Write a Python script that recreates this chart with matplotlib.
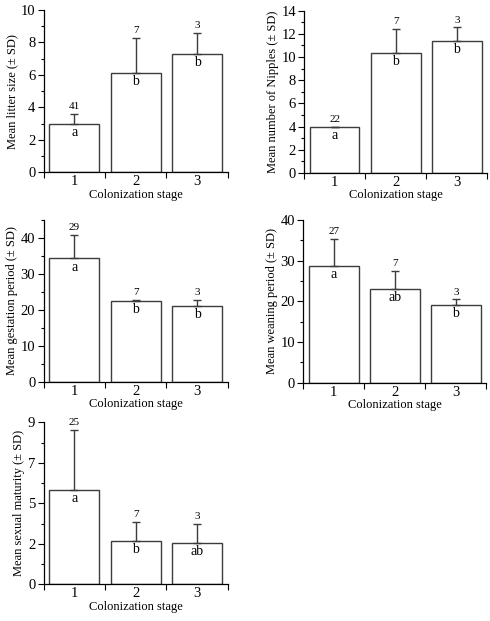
import matplotlib
matplotlib.use('Agg')
import matplotlib.pyplot as plt

plt.rcParams['font.family'] = ['Liberation Serif', 'DejaVu Serif']
plt.rcParams['font.size'] = 9

stages = [1, 2, 3]

litter_mean = [2.97, 6.12, 7.31]
litter_sd = [0.64, 2.18, 1.29]
litter_n = [41, 7, 3]
litter_grp = ['a', 'b', 'b']

nipples_mean = [3.99, 10.37, 11.35]
nipples_sd = [0.0, 2.07, 1.21]
nipples_n = [22, 7, 3]
nipples_grp = ['a', 'b', 'b']

gest_mean = [34.3, 22.5, 21.0]
gest_sd = [6.6, 0.3, 1.9]
gest_n = [29, 7, 3]
gest_grp = ['a', 'b', 'b']

wean_mean = [28.6, 23.1, 19.2]
wean_sd = [6.7, 4.4, 1.3]
wean_n = [27, 7, 3]
wean_grp = ['a', 'ab', 'b']

sexmat_mean = [5.26, 2.42, 2.29]
sexmat_sd = [3.31, 1.06, 1.08]
sexmat_n = [25, 7, 3]
sexmat_grp = ['a', 'b', 'ab']

edge = '#3c3c3c'


def panel(rect, means, sds, ns, grps, ylabel, ylim, majors, minors, ylabels=None):
    ax = fig.add_axes(rect)
    ax.bar(stages, means, width=0.81, color='white', edgecolor=edge, linewidth=1.0)
    ax.errorbar(stages, means, yerr=[[0] * 3, sds], fmt='none', ecolor=edge,
                elinewidth=1.0, capsize=3, capthick=1.0)
    for x, m, s, n, g in zip(stages, means, sds, ns, grps):
        ax.annotate(str(n), (x, m + s), xytext=(0, 2), textcoords='offset points',
                    ha='center', va='bottom', fontsize=8)
        ax.annotate(g, (x, m), xytext=(0, -1.5), textcoords='offset points',
                    ha='center', va='top', fontsize=10)
    ax.set_xlim(0.5, 3.5)
    ax.set_ylim(*ylim)
    ax.set_xticks([0.5, 1.5, 2.5, 3.5])
    ax.set_xticklabels([''] * 4)
    ax.set_xticks(stages, minor=True)
    ax.set_xticklabels([str(s) for s in stages], minor=True)
    ax.tick_params(axis='x', which='major', length=4, width=0.8, direction='out')
    ax.tick_params(axis='x', which='minor', length=0, pad=2, labelsize=10.5)
    ax.set_yticks(majors)
    if ylabels is not None:
        ax.set_yticklabels(ylabels)
    ax.set_yticks(minors, minor=True)
    ax.tick_params(axis='y', which='major', length=4.5, width=0.8, direction='out',
                   pad=1.5, labelsize=10.5)
    ax.tick_params(axis='y', which='minor', length=2, width=0.8, direction='out')
    for sp in ['top', 'right']:
        ax.spines[sp].set_visible(False)
    for sp in ['left', 'bottom']:
        ax.spines[sp].set_linewidth(0.9)
    ax.set_xlabel('Colonization stage', labelpad=0.5, fontsize=9)
    ax.set_ylabel(ylabel, labelpad=2, fontsize=9)
    return ax


fig = plt.figure(figsize=(4.9, 6.21), dpi=100)

panel([0.089, 0.7225, 0.376, 0.2614], litter_mean, litter_sd, litter_n, litter_grp,
      'Mean litter size (\u00b1 SD)', (0, 10), [0, 2, 4, 6, 8, 10], [1, 3, 5, 7, 9])
panel([0.621, 0.7214, 0.3735, 0.2614], nipples_mean, nipples_sd, nipples_n, nipples_grp,
      'Mean number of Nipples (\u00b1 SD)', (0, 14), [0, 2, 4, 6, 8, 10, 12, 14],
      [1, 3, 5, 7, 9, 11, 13])
panel([0.089, 0.3849, 0.376, 0.2609], gest_mean, gest_sd, gest_n, gest_grp,
      'Mean gestation period (\u00b1 SD)', (0, 45), [0, 10, 20, 30, 40], [5, 15, 25, 35, 45])
panel([0.619, 0.3837, 0.3735, 0.262], wean_mean, wean_sd, wean_n, wean_grp,
      'Mean weaning period (\u00b1 SD)', (0, 40), [0, 10, 20, 30, 40], [5, 15, 25, 35])
panel([0.089, 0.0591, 0.376, 0.2609], sexmat_mean, sexmat_sd, sexmat_n, sexmat_grp,
      'Mean sexual maturity (\u00b1 SD)', (0, 9), [0, 2.25, 4.5, 6.75, 9],
      [1.125, 3.375, 5.625, 7.875], ylabels=['0', '2', '5', '7', '9'])

fig.savefig('out.png', dpi=100)
